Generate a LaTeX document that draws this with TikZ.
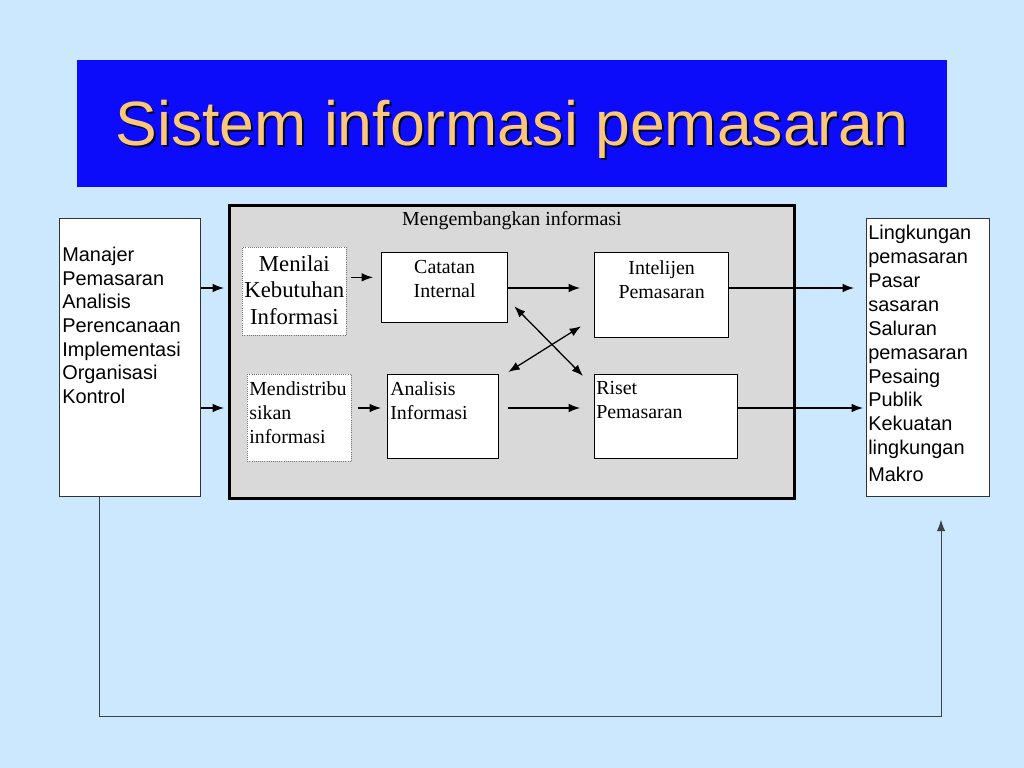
\documentclass[tikz,border=0pt]{standalone}
\usepackage{fontspec}
\setmainfont{Liberation Serif}
\setsansfont{Liberation Sans}
\usetikzlibrary{positioning, calc, arrows.meta}

\newlength\pxu
\setlength\pxu{0.703125pt}

\definecolor{slidebg}{RGB}{204,232,255}
\definecolor{titlebg}{RGB}{12,12,250}
\definecolor{titlefg}{RGB}{252,200,120}
\definecolor{panelgray}{RGB}{217,217,217}

\tikzset{
    titlebar/.style={fill=titlebg, anchor=north west, inner sep=0pt},
    titletext/.style={font=\sffamily\fontsize{44}{52}\selectfont, text=titlefg, inner sep=0pt},
    sidebox/.style={draw=black!80, fill=white, line width=0.6pt, anchor=north west, inner sep=0pt},
    sidetext/.style={font=\sffamily\fontsize{14}{16.6}\selectfont, align=left, anchor=north west, inner sep=0pt},
    panel/.style={draw=black, fill=panelgray, line width=2pt, anchor=north west, inner sep=0pt},
    infobox/.style={draw=black, fill=white, line width=0.9pt, anchor=north west, inner sep=0pt},
    dotbox/.style={draw=black!55, densely dotted, fill=white, line width=0.5pt, anchor=north west, inner sep=0pt},
    boxtext/.style={font=\fontsize{14}{16.9}\selectfont, inner sep=0pt},
    link/.style={->, >={Latex[length=8pt, width=6pt]}, line width=0.9pt},
}

\begin{document}
\begin{tikzpicture}[x=\pxu, y=-\pxu]
    % slide background
    \fill[slidebg] (0,0) rectangle (1024,768);
    % title
    \node[titlebar, minimum width=870\pxu, minimum height=127\pxu] (title) at (77,60) {};
    \node[titletext, text=black!80!titlebg] (titleshadow) at (514,131) {Sistem informasi pemasaran};
    \node[titletext] (titletxt) at (512,129) {Sistem informasi pemasaran};

    % rows for the horizontal arrows
    \coordinate (rowA) at (0,288);
    \coordinate (rowB) at (0,408);
    \coordinate (fbL) at (99,716);
    \coordinate (fbR) at (941,716);

    % left and right boxes
    \node[sidebox, minimum width=141\pxu, minimum height=278\pxu] (manajer) at (59,218) {};
    \node[sidetext] (manajertxt) at (62,247)
        {Manajer\\Pemasaran\\Analisis\\Perencanaan\\Implementasi\\Organisasi\\Kontrol};
    \node[sidebox, minimum width=123\pxu, minimum height=278\pxu] (lingkungan) at (866,218) {};
    \node[sidetext, font=\sffamily\fontsize{14}{16.8}\selectfont] (lingkungantxt) at (868,225)
        {Lingkungan\\pemasaran\\Pasar\\sasaran\\Saluran\\pemasaran\\Pesaing\\Publik\\Kekuatan\\lingkungan\\[2pt]Makro};

    % grey panel
    \node[panel, minimum width=565\pxu, minimum height=293\pxu] (panel) at (228,204) {};
    \node[boxtext, anchor=north] (paneltxt) at ([yshift=-7\pxu]panel.north) {Mengembangkan informasi};

    % boxes in the panel
    \node[dotbox, minimum width=104\pxu, minimum height=88\pxu] (menilai) at (242,247) {};
    \node[boxtext, font=\fontsize{16}{18.7}\selectfont, align=center, anchor=north] (menilaitxt)
        at ([yshift=-8\pxu]menilai.north) {Menilai\\Kebutuhan\\Informasi};
    \node[infobox, minimum width=126\pxu, minimum height=70\pxu] (catatan) at (381,252) {};
    \node[boxtext, align=center, anchor=north] (catatantxt)
        at ([yshift=-8\pxu]catatan.north) {Catatan\\Internal};
    \node[infobox, minimum width=134\pxu, minimum height=85\pxu] (intelijen) at (594,252) {};
    \node[boxtext, align=center, anchor=north] (intelijentxt)
        at ([yshift=-8\pxu]intelijen.north) {Intelijen\\Pemasaran};

    \node[dotbox, minimum width=104\pxu, minimum height=87\pxu] (mendistribusi) at (247,374) {};
    \node[boxtext, align=left, anchor=north west] (mendistribusitxt)
        at ([shift={(2,7)}]mendistribusi.north west) {Mendistribu\\sikan\\informasi};
    \node[infobox, minimum width=111\pxu, minimum height=84\pxu] (analisis) at (387,374) {};
    \node[boxtext, align=left, anchor=north west] (analisistxt)
        at ([shift={(3,7)}]analisis.north west) {Analisis\\Informasi};
    \node[infobox, minimum width=143\pxu, minimum height=84\pxu] (riset) at (594,374) {};
    \node[boxtext, align=left, anchor=north west] (risettxt)
        at ([shift={(2,7)}]riset.north west) {Riset\\Pemasaran};

    % arrows
    \draw[link, shorten >=4\pxu] (manajer.east |- rowA) -- (panel.west |- rowA);
    \draw[link, shorten >=4\pxu] (manajer.east |- rowB) -- (panel.west |- rowB);
    \draw[link, shorten <=4\pxu, shorten >=8\pxu] ([yshift=14\pxu]menilai.east) -- ([yshift=14\pxu]menilai.east -| catatan.west);
    \draw[link, shorten <=6\pxu, shorten >=6\pxu] (mendistribusi.east |- rowB) -- (analisis.west |- rowB);
    \draw[link, shorten >=14\pxu] (catatan.east |- rowA) -- (intelijen.west |- rowA);
    \draw[link, shorten <=9\pxu, shorten >=14\pxu] (analisis.east |- rowB) -- (riset.west |- rowB);
    \draw[link, shorten >=12\pxu] (intelijen.east |- rowA) -- (lingkungan.west |- rowA);
    \draw[link, shorten >=3\pxu] (riset.east |- rowB) -- (lingkungan.west |- rowB);
    \draw[link, <->] ([shift={(6,-17)}]catatan.south east) -- ([shift={(-11,2)}]riset.north west);
    \draw[link, <->] ([shift={(-13,-12)}]intelijen.south west) -- ([shift={(9,-2)}]analisis.north east);

    % feedback loop
    \draw[link, line width=0.6pt, draw=black!75, shorten >=23\pxu]
        (manajer.south -| fbL) -- (fbL) -- (fbR) -- (lingkungan.south -| fbR);
\end{tikzpicture}
\end{document}
